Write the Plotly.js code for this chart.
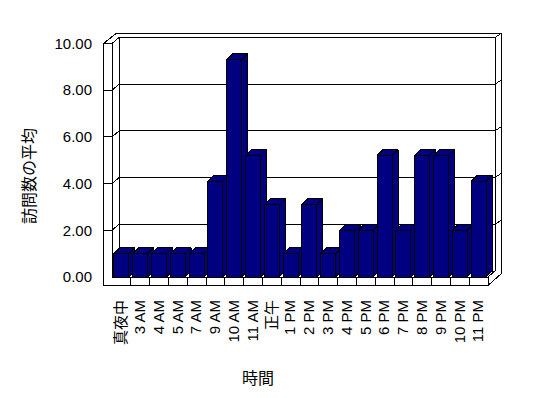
<!DOCTYPE html>
<html>
<head>
<meta charset="utf-8">
<script src="https://cdn.plot.ly/plotly-3.0.1.min.js"></script>
<style>
html,body{margin:0;padding:0;background:#fff;}
#chart{width:548px;height:398px;}
#chart path{shape-rendering:crispEdges;}
</style>
</head>
<body>
<div id="chart"></div>
<script>
// ---- data ----
const categories = ['真夜中','3 AM','4 AM','5 AM','7 AM','9 AM','10 AM','11 AM','正午','1 PM','2 PM','3 PM','4 PM','5 PM','6 PM','7 PM','8 PM','9 PM','10 PM','11 PM'];
const avgVisits = [1, 1, 1, 1, 1, 4.1, 9.3, 5.2, 3.1, 1, 3.1, 1, 2, 2, 5.2, 2, 5.2, 5.2, 2, 4.1];
const yTickVals = [0, 2, 4, 6, 8, 10];
const yTitle = '訪問数の平均';
const xTitle = '時間';

// ---- layout geometry (pixels) ----
const W = 548, H = 398;
const plotL = 103, plotR = 503, plotT = 28, plotB = 290;
const catPx = 18.8, cat0Px = 121.4;   // category spacing / first category centre
const unitPx = 23.35, zeroPx = 277;   // px per unit / value-0 line
const X = px => (px - cat0Px) / catPx;
const Y = py => (zeroPx - py) / unitPx;
const dX = px => px / catPx;
const dY = px => px / unitPx;

const n = categories.length;
const L = -0.5, R = n - 0.5, T = yTickVals[yTickVals.length - 1];
const thick = 8.5;          // wall / floor thickness
const wdx = 7, wdy = 6;     // depth of back wall
const odxL = -2.3, odxR = 6.7, ody = 4.5; // back wall outer edge

const lines = [];
function seg(x0, y0, x1, y1) { lines.push({x0, y0, x1, y1}); }
const BX0 = L + dX(wdx), BX1 = R + dX(wdx);
const by = v => v + dY(wdy);
// left wall front face
seg(L - dX(thick), T, L - dX(thick), -dY(thick));
seg(L, T, L, 0);
seg(L - dX(thick), T, L, T);
// floor front face
seg(L - dX(thick), -dY(thick), R, -dY(thick));
seg(L, 0, R, 0);
for (let k = 1; k <= n; k++) seg(L + k, 0, L + k, -dY(thick));
// top diagonals
seg(L - dX(thick), T, L + dX(wdx + odxL), T + dY(wdy + ody));
seg(L, T, BX0, by(T));
// back wall
seg(BX0, by(T), BX1, by(T));
seg(BX0, by(T), BX0, by(0));
seg(BX1, by(T), BX1, by(0));
seg(BX0, by(0), BX1, by(0));
seg(L + dX(wdx + odxL), T + dY(wdy + ody), R + dX(wdx + odxR), T + dY(wdy + ody));
seg(BX1, by(T), R + dX(wdx + odxR), T + dY(wdy + ody));
seg(R + dX(wdx + odxR), T + dY(wdy + ody), R + dX(wdx + odxR), -dY(thick) + dY(12.2));
// floor right side
seg(R, -dY(thick), R + dX(wdx + odxR), -dY(thick) + dY(12.2));
seg(R, 0, BX1, by(0));
// gridlines
yTickVals.forEach(v => {
  if (v === 0 || v === T) return;
  seg(L - dX(thick), v, L, v);
  seg(L, v, BX0, by(v));
  seg(BX0, by(v), BX1, by(v));
  seg(BX1, by(v), R + dX(wdx + odxR), v + dY(wdy + ody));
});

const shapes = lines.map(s => ({
  type: 'line', xref: 'x', yref: 'y', layer: 'below',
  x0: s.x0, y0: s.y0, x1: s.x1, y1: s.y1,
  line: {color: '#000', width: 1}
}));

// ---- 3D bars: one trace per bar (front, side, top faces) ----
const bw = dX(15), ddx = dX(6), ddy = dY(6);
const traces = avgVisits.map((v, i) => {
  const x0 = i - bw / 2, x1 = i + bw / 2;
  const xs = [x0, x1, x1, x0, x0, null,
              x1, x1 + ddx, x1 + ddx, x1, x1, null,
              x0, x0 + ddx, x1 + ddx, x1, x0];
  const ys = [0, 0, v, v, 0, null,
              0, ddy, v + ddy, v, 0, null,
              v, v + ddy, v + ddy, v, v];
  return {
    type: 'scatter', mode: 'lines', x: xs, y: ys,
    fill: 'toself', fillcolor: '#000080',
    line: {color: '#000', width: 1},
    hoverinfo: 'skip', showlegend: false, cliponaxis: false
  };
});

const latin = 'Liberation Sans, Arial, Noto Sans CJK JP, sans-serif';
const cjk = 'Noto Sans CJK JP, sans-serif';
const pw = plotR - plotL, ph = plotB - plotT;

const layout = {
  width: W, height: H,
  margin: {l: plotL, r: W - plotR, t: plotT, b: H - plotB, pad: 0},
  paper_bgcolor: '#fff', plot_bgcolor: 'rgba(0,0,0,0)',
  showlegend: false,
  xaxis: {
    range: [X(plotL), X(plotR)], showgrid: false, zeroline: false, showline: false,
    tickmode: 'array', tickvals: categories.map((c, i) => i), ticktext: categories,
    tickangle: -90, ticks: '', ticklabelstandoff: 6,
    tickfont: {family: latin, size: 15, color: '#000'}, fixedrange: true
  },
  yaxis: {
    range: [Y(plotB), Y(plotT)], showgrid: false, zeroline: false, showline: false,
    tickmode: 'array', tickvals: yTickVals, tickformat: '.2f', ticks: '',
    ticklabelstandoff: 10,
    tickfont: {family: latin, size: 15, color: '#000'}, fixedrange: true
  },
  shapes: shapes,
  annotations: [
    {text: yTitle, textangle: -90, xref: 'paper', yref: 'paper',
     x: (28 - plotL) / pw, y: (plotB - 176) / ph, xanchor: 'center', yanchor: 'middle',
     showarrow: false, font: {family: cjk, size: 16, color: '#000'}},
    {text: xTitle, xref: 'paper', yref: 'paper',
     x: (258 - plotL) / pw, y: (plotB - 377) / ph, xanchor: 'center', yanchor: 'middle',
     showarrow: false, font: {family: cjk, size: 16, color: '#000'}}
  ]
};

Plotly.newPlot('chart', traces, layout, {displayModeBar: false, staticPlot: true});
</script>
</body>
</html>
